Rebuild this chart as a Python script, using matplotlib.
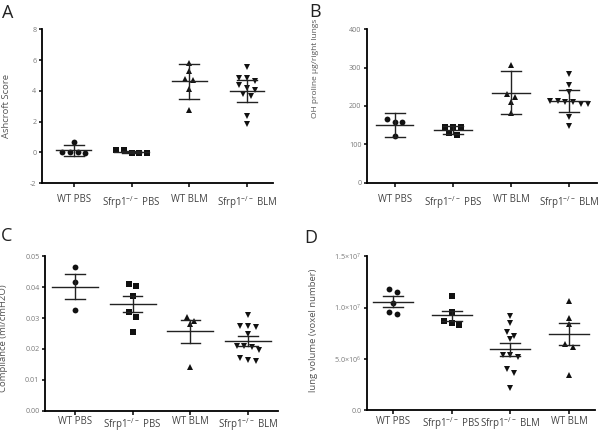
import matplotlib
matplotlib.use('Agg')
import matplotlib.pyplot as plt
import numpy as np

plt.rcParams['font.family'] = ['Open Sans', 'DejaVu Sans']
plt.rcParams['mathtext.default'] = 'regular'

# ---- data ----
KO = r'Sfrp1$^{\mathregular{-/-}}$'
groups_abc = ['WT PBS', KO + ' PBS', 'WT BLM', KO + ' BLM']
groups_d = ['WT PBS', KO + ' PBS', KO + ' BLM', 'WT BLM']

# A: Ashcroft score
ash_wt_pbs = [-0.05, 0.0, 0.65, 0.0, 0.05]
ash_ko_pbs = [0.13, -0.04, -0.04, -0.04, 0.13]
ash_wt_blm = [5.3, 5.8, 4.8, 4.7, 4.1, 2.75]
ash_ko_blm = [5.58, 4.83, 4.66, 4.83, 4.40, 4.18, 4.03, 3.81, 3.64, 2.34, 1.84]
ash_center = [0.13, 0.03, 4.63, 4.0]
ash_lo = [-0.2, -0.02, 3.5, 3.25]
ash_hi = [0.5, 0.08, 5.75, 4.7]

# B: OH proline
hyp_wt_pbs = [159, 157, 165, 122]
hyp_ko_pbs = [144, 144, 146, 125, 129]
hyp_wt_blm = [307, 223, 231, 211, 183]
hyp_ko_blm = [283, 255, 237, 210, 212, 205, 210, 205, 212, 172, 149]
hyp_center = [150, 137, 233, 213]
hyp_lo = [120, 126, 178, 185]
hyp_hi = [181, 148, 290, 241]

# C: compliance
cmp_wt_pbs = [0.0464, 0.0416, 0.0326]
cmp_ko_pbs = [0.0411, 0.0405, 0.0371, 0.0320, 0.0302, 0.0254]
cmp_wt_blm = [0.0291, 0.0280, 0.0305, 0.0143]
cmp_ko_blm = [0.0310, 0.0275, 0.0272, 0.0275, 0.0248, 0.0210, 0.0205,
              0.0210, 0.0197, 0.0172, 0.0161, 0.0164]
cmp_center = [0.0401, 0.0345, 0.0257, 0.0225]
cmp_lo = [0.0362, 0.0320, 0.0218, 0.0210]
cmp_hi = [0.0443, 0.0370, 0.0294, 0.0242]

# D: lung volume (voxel number)
vol_wt_pbs = [1.15e7, 1.18e7, 1.04e7, 0.935e7, 0.96e7]
vol_ko_pbs = [1.108e7, 0.961e7, 0.87e7, 0.83e7, 0.847e7]
vol_ko_blm = [0.92e7, 0.848e7, 0.765e7, 0.723e7, 0.69e7, 0.538e7, 0.515e7,
              0.538e7, 0.40e7, 0.359e7, 0.215e7]
vol_wt_blm = [1.068e7, 0.896e7, 0.84e7, 0.642e7, 0.619e7, 0.342e7]
vol_center = [1.053e7, 0.925e7, 0.593e7, 0.743e7]
vol_lo = [1.004e7, 0.873e7, 0.528e7, 0.635e7]
vol_hi = [1.108e7, 0.970e7, 0.652e7, 0.847e7]

W, H = 600, 436
fig = plt.figure(figsize=(W / 100, H / 100), dpi=100)

TICK_GRAY = '#7a7a7a'
LABEL_GRAY = '#555555'


def swarm_offsets(ax, x0, vals, d_px):
    """Group points into rows by pixel height and center each row."""
    pts = ax.transData.transform(np.column_stack([np.full(len(vals), x0), vals]))
    ys = pts[:, 1]
    px_per_unit = (ax.transData.transform((1, 0))[0] - ax.transData.transform((0, 0))[0])
    order = np.argsort(-ys)
    offs = np.zeros(len(vals))
    rows = []
    for i in order:
        if rows and abs(ys[rows[-1][0]] - ys[i]) < d_px * 0.75:
            rows[-1].append(i)
        else:
            rows.append([i])
    for row in rows:
        n = len(row)
        for j, i in enumerate(row):
            offs[i] = (j - (n - 1) / 2) * d_px / px_per_unit
    return offs


def panel(rect, series, markers, center, lo, hi, labels, ylim, yticks,
          yticklabels, xlim, ylabel, ylab_xy, mean_half, ylab_size=6.8,
          xpad=5):
    ax = fig.add_axes(rect)
    ax.set_xlim(*xlim)
    ax.set_ylim(*ylim)
    for i, (vals, m) in enumerate(zip(series, markers)):
        offs = swarm_offsets(ax, i, vals, 7.6)
        ax.plot(i + offs, vals, m, color='#111111', ms=4.2, mew=0, ls='none',
                zorder=3)
        # mean line and error bar
        ax.plot([i - mean_half, i + mean_half], [center[i], center[i]],
                color='#222222', lw=1.0, zorder=4)
        ax.plot([i, i], [lo[i], hi[i]], color='#222222', lw=1.0, zorder=4)
        for yv in (lo[i], hi[i]):
            ax.plot([i - 0.17, i + 0.17], [yv, yv], color='#222222', lw=1.0,
                    zorder=4)
    ax.set_xticks(range(len(labels)))
    ax.set_xticklabels(labels, fontsize=6.9, color='#444444')
    ax.set_yticks(yticks)
    ax.set_yticklabels(yticklabels, fontsize=5.2, color=TICK_GRAY)
    ax.tick_params(axis='x', length=3, width=1.1, pad=xpad, direction='out')
    ax.tick_params(axis='y', length=2.5, width=1.1, pad=1.5, direction='out')
    for s in ('top', 'right'):
        ax.spines[s].set_visible(False)
    for s in ('left', 'bottom'):
        ax.spines[s].set_linewidth(1.3)
    ax.set_ylabel(ylabel, fontsize=ylab_size, color=LABEL_GRAY)
    ax.yaxis.set_label_coords(*ylab_xy)
    return ax


def frac(left, top, right, bottom):
    return [left / W, 1 - bottom / H, (right - left) / W, (bottom - top) / H]


# A
panel(frac(42, 29.3, 273, 183.3),
      [ash_wt_pbs, ash_ko_pbs, ash_wt_blm, ash_ko_blm], ['o', 's', '^', 'v'],
      ash_center, ash_lo, ash_hi, groups_abc, (-2, 8), [-2, 0, 2, 4, 6, 8],
      ['-2', '0', '2', '4', '6', '8'], (-0.55, 3.45), 'Ashcroft Score',
      (-0.135, 0.5), 0.3)

# B
panel(frac(367, 29.3, 597, 182.7),
      [hyp_wt_pbs, hyp_ko_pbs, hyp_wt_blm, hyp_ko_blm], ['o', 's', '^', 'v'],
      hyp_center, hyp_lo, hyp_hi, groups_abc, (0, 400), [0, 100, 200, 300, 400],
      ['0', '100', '200', '300', '400'], (-0.48, 3.48),
      'OH proline μg/right lungs', (-0.21, 0.745), 0.32, ylab_size=6.0)

# C
panel(frac(45, 256.3, 278, 410.7),
      [cmp_wt_pbs, cmp_ko_pbs, cmp_wt_blm, cmp_ko_blm], ['o', 's', '^', 'v'],
      cmp_center, cmp_lo, cmp_hi, groups_abc, (0, 0.05),
      [0, 0.01, 0.02, 0.03, 0.04, 0.05],
      ['0.00', '0.01', '0.02', '0.03', '0.04', '0.05'], (-0.52, 3.52),
      'Compliance (ml/cmH2O)', (-0.16, 0.47), 0.4, xpad=1)

# D
panel(frac(367, 256.3, 595, 410),
      [vol_wt_pbs, vol_ko_pbs, vol_ko_blm, vol_wt_blm], ['o', 's', 'v', '^'],
      vol_center, vol_lo, vol_hi, groups_d, (0, 1.5e7),
      [0, 5e6, 1e7, 1.5e7],
      ['0.0', '5.0×10$^{6}$', '1.0×10$^{7}$', '1.5×10$^{7}$'], (-0.44, 3.44),
      'lung volume (voxel number)', (-0.215, 0.52), 0.34, xpad=1)

# panel letters
for letter, (x, y) in zip('ABCD', [(2, 4), (309, 3), (1, 227), (304, 229)]):
    fig.text(x / W, 1 - y / H, letter, fontsize=13, color='#222222',
             ha='left', va='top')

fig.savefig('out.png', dpi=100)
